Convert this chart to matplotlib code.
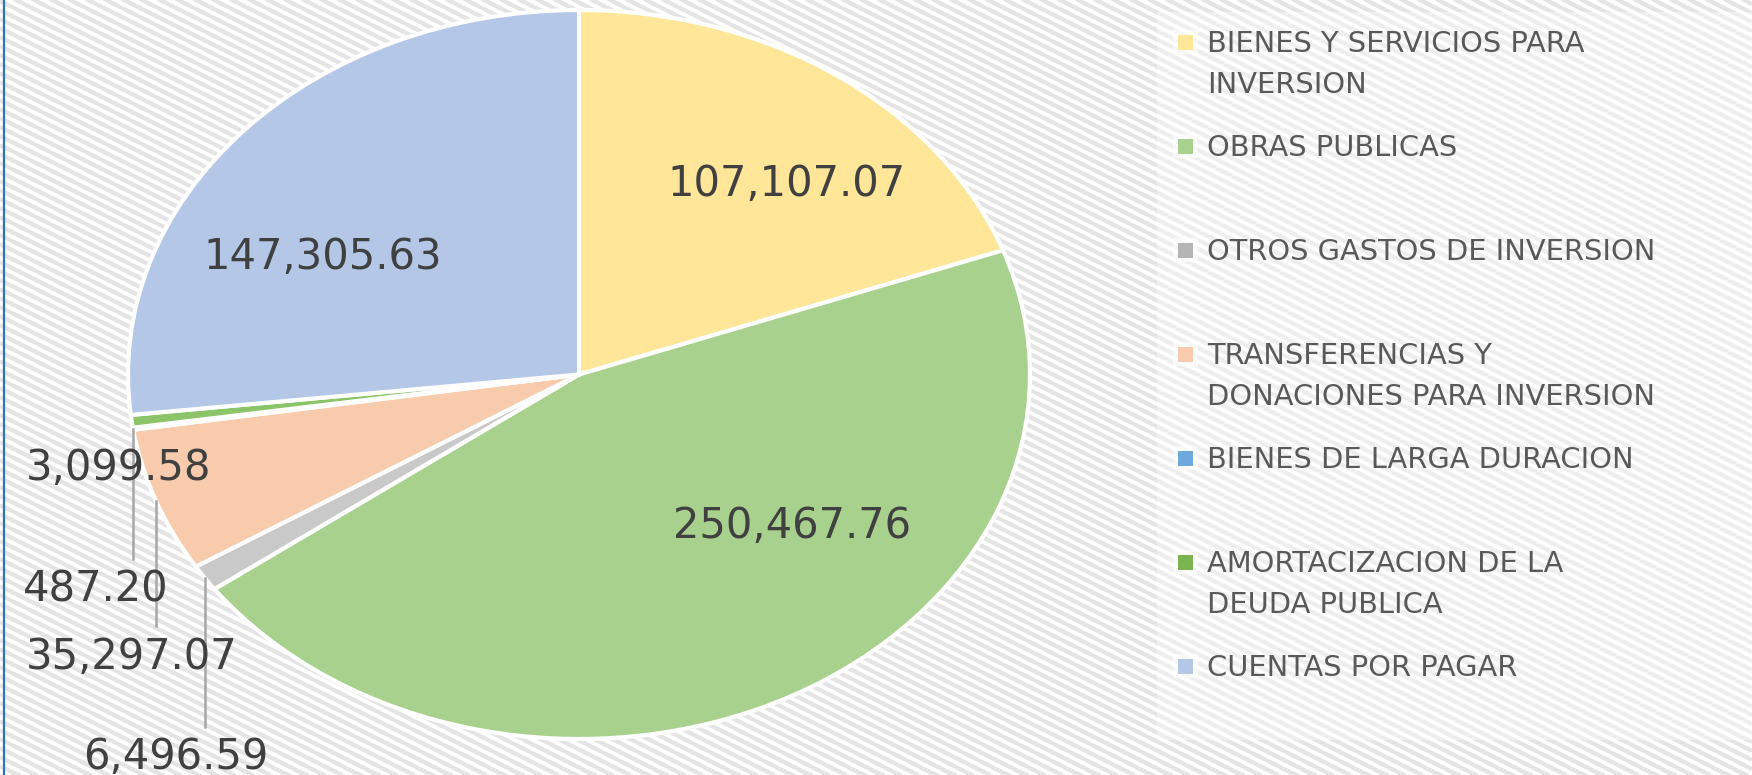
import numpy as np
import matplotlib
matplotlib.use("Agg")
import matplotlib.pyplot as plt
from matplotlib.patches import Rectangle
from matplotlib.collections import LineCollection

categorias = [
    "BIENES Y SERVICIOS PARA\nINVERSION",
    "OBRAS PUBLICAS",
    "OTROS GASTOS DE INVERSION",
    "TRANSFERENCIAS Y\nDONACIONES PARA INVERSION",
    "BIENES DE LARGA DURACION",
    "AMORTACIZACION DE LA\nDEUDA PUBLICA",
    "CUENTAS POR PAGAR",
]
valores = [107107.07, 250467.76, 6496.59, 35297.07, 487.20, 3099.58, 147305.63]
etiquetas = ["107,107.07", "250,467.76", "6,496.59", "35,297.07", "487.20", "3,099.58", "147,305.63"]
colores = ["#FFE699", "#A9D18E", "#C9C9C9", "#F8CBAD", "#6FA8DC", "#8CC46A", "#B4C7E7"]
colores_leyenda = ["#FFE699", "#A9D18E", "#B5B5B5", "#F8CBAD", "#6FA8DC", "#7AB552", "#B4C7E7"]

# posicion de cada etiqueta (coordenadas del pie) y si lleva linea guia
pos_etiquetas = [(0.459, 0.523), (0.472, -0.416), (-0.895, -1.050), (-0.993, -0.774),
                 (-1.071, -0.590), (-1.022, -0.256), (-0.568, 0.322)]
con_linea = [False, False, True, True, True, False, False]

W, H = 1752, 775
fig = plt.figure(figsize=(W / 100, H / 100), dpi=100)
fig.patch.set_facecolor("white")

# fondo con rayas diagonales
bg = fig.add_axes([0, 0, 1, 1], zorder=0)
bg.set_xlim(0, W)
bg.set_ylim(0, H)
bg.axis("off")
pendiente = -0.5
segs = []
for c in np.arange(0, H + W * 0.5 + 10, 9):
    segs.append([(0, c), (W, c + pendiente * W)])
bg.add_collection(LineCollection(segs, colors="#E4E4E4", linewidths=3.0, zorder=0))
bg.add_patch(Rectangle((1157, 35), W - 1157, 728, facecolor="white", alpha=0.4,
                       edgecolor="none", zorder=1))
bg.plot([4, 4], [0, H], color="#2E75B6", linewidth=1.6, zorder=2)

# leyenda dibujada a mano
for i, (cat, col) in enumerate(zip(categorias, colores_leyenda)):
    yc = 42 + 104 * i
    bg.add_patch(Rectangle((1173, H - yc - 12), 25, 24, facecolor="white", alpha=0.6,
                           edgecolor="none", zorder=2))
    bg.add_patch(Rectangle((1178, H - yc - 7.5), 15, 15, facecolor=col, edgecolor="none", zorder=3))
    for j, linea in enumerate(cat.split("\n")):
        bg.text(1207, H - (yc + 10 + 41 * j), linea, fontsize=20.8, color="#595959",
                va="baseline", ha="left", zorder=3)

# pie (eliptico)
ax = fig.add_axes([128 / W, 36 / H, 902 / W, 729 / H], zorder=1)
wedges, _ = ax.pie(valores, colors=colores, startangle=90, counterclock=False,
                   radius=1, wedgeprops=dict(edgecolor="white", linewidth=3))
ax.set_aspect("auto")
ax.set_xlim(-1, 1)
ax.set_ylim(-1, 1)

for w, txt, (x, y), linea in zip(wedges, etiquetas, pos_etiquetas, con_linea):
    if linea:
        ang = np.deg2rad((w.theta1 + w.theta2) / 2)
        ex, ey = np.cos(ang), np.sin(ang)
        ax.plot([ex, ex], [ey, y + 0.083], color="#A6A6A6", linewidth=1.8, clip_on=False)
    ax.text(x, y, txt, fontsize=30, color="#404040", ha="center", va="center", clip_on=False)

fig.savefig("out.png", dpi=100)
